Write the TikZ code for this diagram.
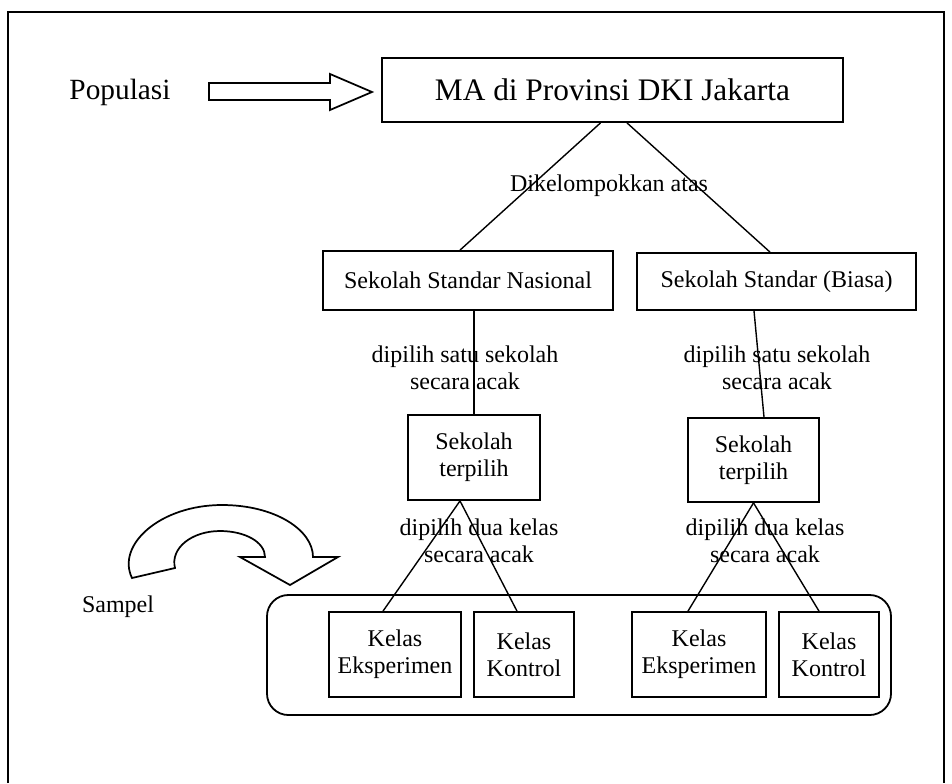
\documentclass[tikz,border=0pt]{standalone}
\usepackage{fontspec}
\setmainfont{Liberation Serif}
\usetikzlibrary{calc}
\begin{document}
\begin{tikzpicture}[x=0.75pt,y=-0.75pt,
  box/.style={draw,line width=1.35pt,inner sep=0pt,align=center,font=\fontsize{18}{20.25}\selectfont},
  lbl/.style={inner sep=0pt,align=center,font=\fontsize{18}{20.25}\selectfont},
  conn/.style={line width=1.05pt},
  shapeline/.style={line width=1.3pt,line join=miter}]
\useasboundingbox (0,0) rectangle (952,783);
% frame
\draw[line width=1.35pt] (8,783) -- (8,12) -- (944,12) -- (944,783);
% top
\node[lbl,font=\fontsize{22}{24}\selectfont] (pop) at (120,92) {Populasi};
\node[box,minimum width=345.75pt,minimum height=48pt,font=\fontsize{23.5}{26}\selectfont] (MA) at (612.5,90) {MA di Provinsi DKI Jakarta};
\draw[shapeline] (209,83) -- (330,83) -- (330,74) -- (372,92) -- (330,110) -- (330,100) -- (209,100) -- cycle;
\node[lbl] (dik) at (609,186) {Dikelompokkan atas};
% level 2
\node[box,minimum width=217.5pt,minimum height=44.25pt] (SSN) at (468,280.5) {Sekolah Standar Nasional};
\node[box,minimum width=209.25pt,minimum height=42.75pt] (SSB) at (776.5,281.5) {Sekolah Standar (Biasa)};
\node[lbl] (sat1) at (465,368) {dipilih satu sekolah\\secara acak};
\node[lbl] (sat2) at (777,368) {dipilih satu sekolah\\secara acak};
% level 3
\node[box,minimum width=99pt,minimum height=63.75pt] (ST1) at (474,457.5) {Sekolah\\terpilih};
\node[box,minimum width=98.25pt,minimum height=63pt] (ST2) at (753.5,460) {Sekolah\\terpilih};
\node[lbl] (dua1) at (479,541) {dipilih dua kelas\\secara acak};
\node[lbl] (dua2) at (765,541) {dipilih dua kelas\\secara acak};
% group
\draw[line width=1.35pt,rounded corners=16pt] (267,595) rectangle (891,715);
\node[box,minimum width=99pt,minimum height=63.75pt] (KE1) at (395,654.5) {Kelas\\Eksperimen};
\node[box,minimum width=75pt,minimum height=63.75pt] (KK1) at (524,654.5) {Kelas\\Kontrol};
\node[box,minimum width=100.5pt,minimum height=63.75pt] (KE2) at (699,654.5) {Kelas\\Eksperimen};
\node[box,minimum width=75pt,minimum height=63.75pt] (KK2) at (829,654.5) {Kelas\\Kontrol};
% sampel
\node[lbl] (samp) at (118,607) {Sampel};
\draw[shapeline] (132,578) .. controls (116,545) and (160,505) .. (222,505)
  .. controls (275,505) and (313,530) .. (313,557)
  -- (338,557) -- (290,585) -- (240,557) -- (265,557)
  .. controls (265,542) and (245,531) .. (220,531)
  .. controls (192,531) and (170,548) .. (175,568) -- cycle;
% connectors
\draw[conn] ($(MA.south)+(-12,0)$) -- ($(SSN.north)+(-8,0)$);
\draw[conn] ($(MA.south)+(14.5,0)$) -- ($(SSB.north)+(-6.5,0)$);
\draw[conn] (SSN.south -| ST1.north) -- (ST1.north);
\draw[conn] ($(SSB.south)+(-22.5,0)$) -- ($(ST2.north)+(10.5,0)$);
\draw[conn] ($(ST1.south)+(-14,0)$) -- ($(KE1.north)+(-12,0)$);
\draw[conn] ($(ST1.south)+(-14,0)$) -- ($(KK1.north)+(-7,0)$);
\draw[conn] (ST2.south) -- ($(KE2.north)+(-11,0)$);
\draw[conn] (ST2.south) -- ($(KK2.north)+(-10,0)$);
\end{tikzpicture}
\end{document}
